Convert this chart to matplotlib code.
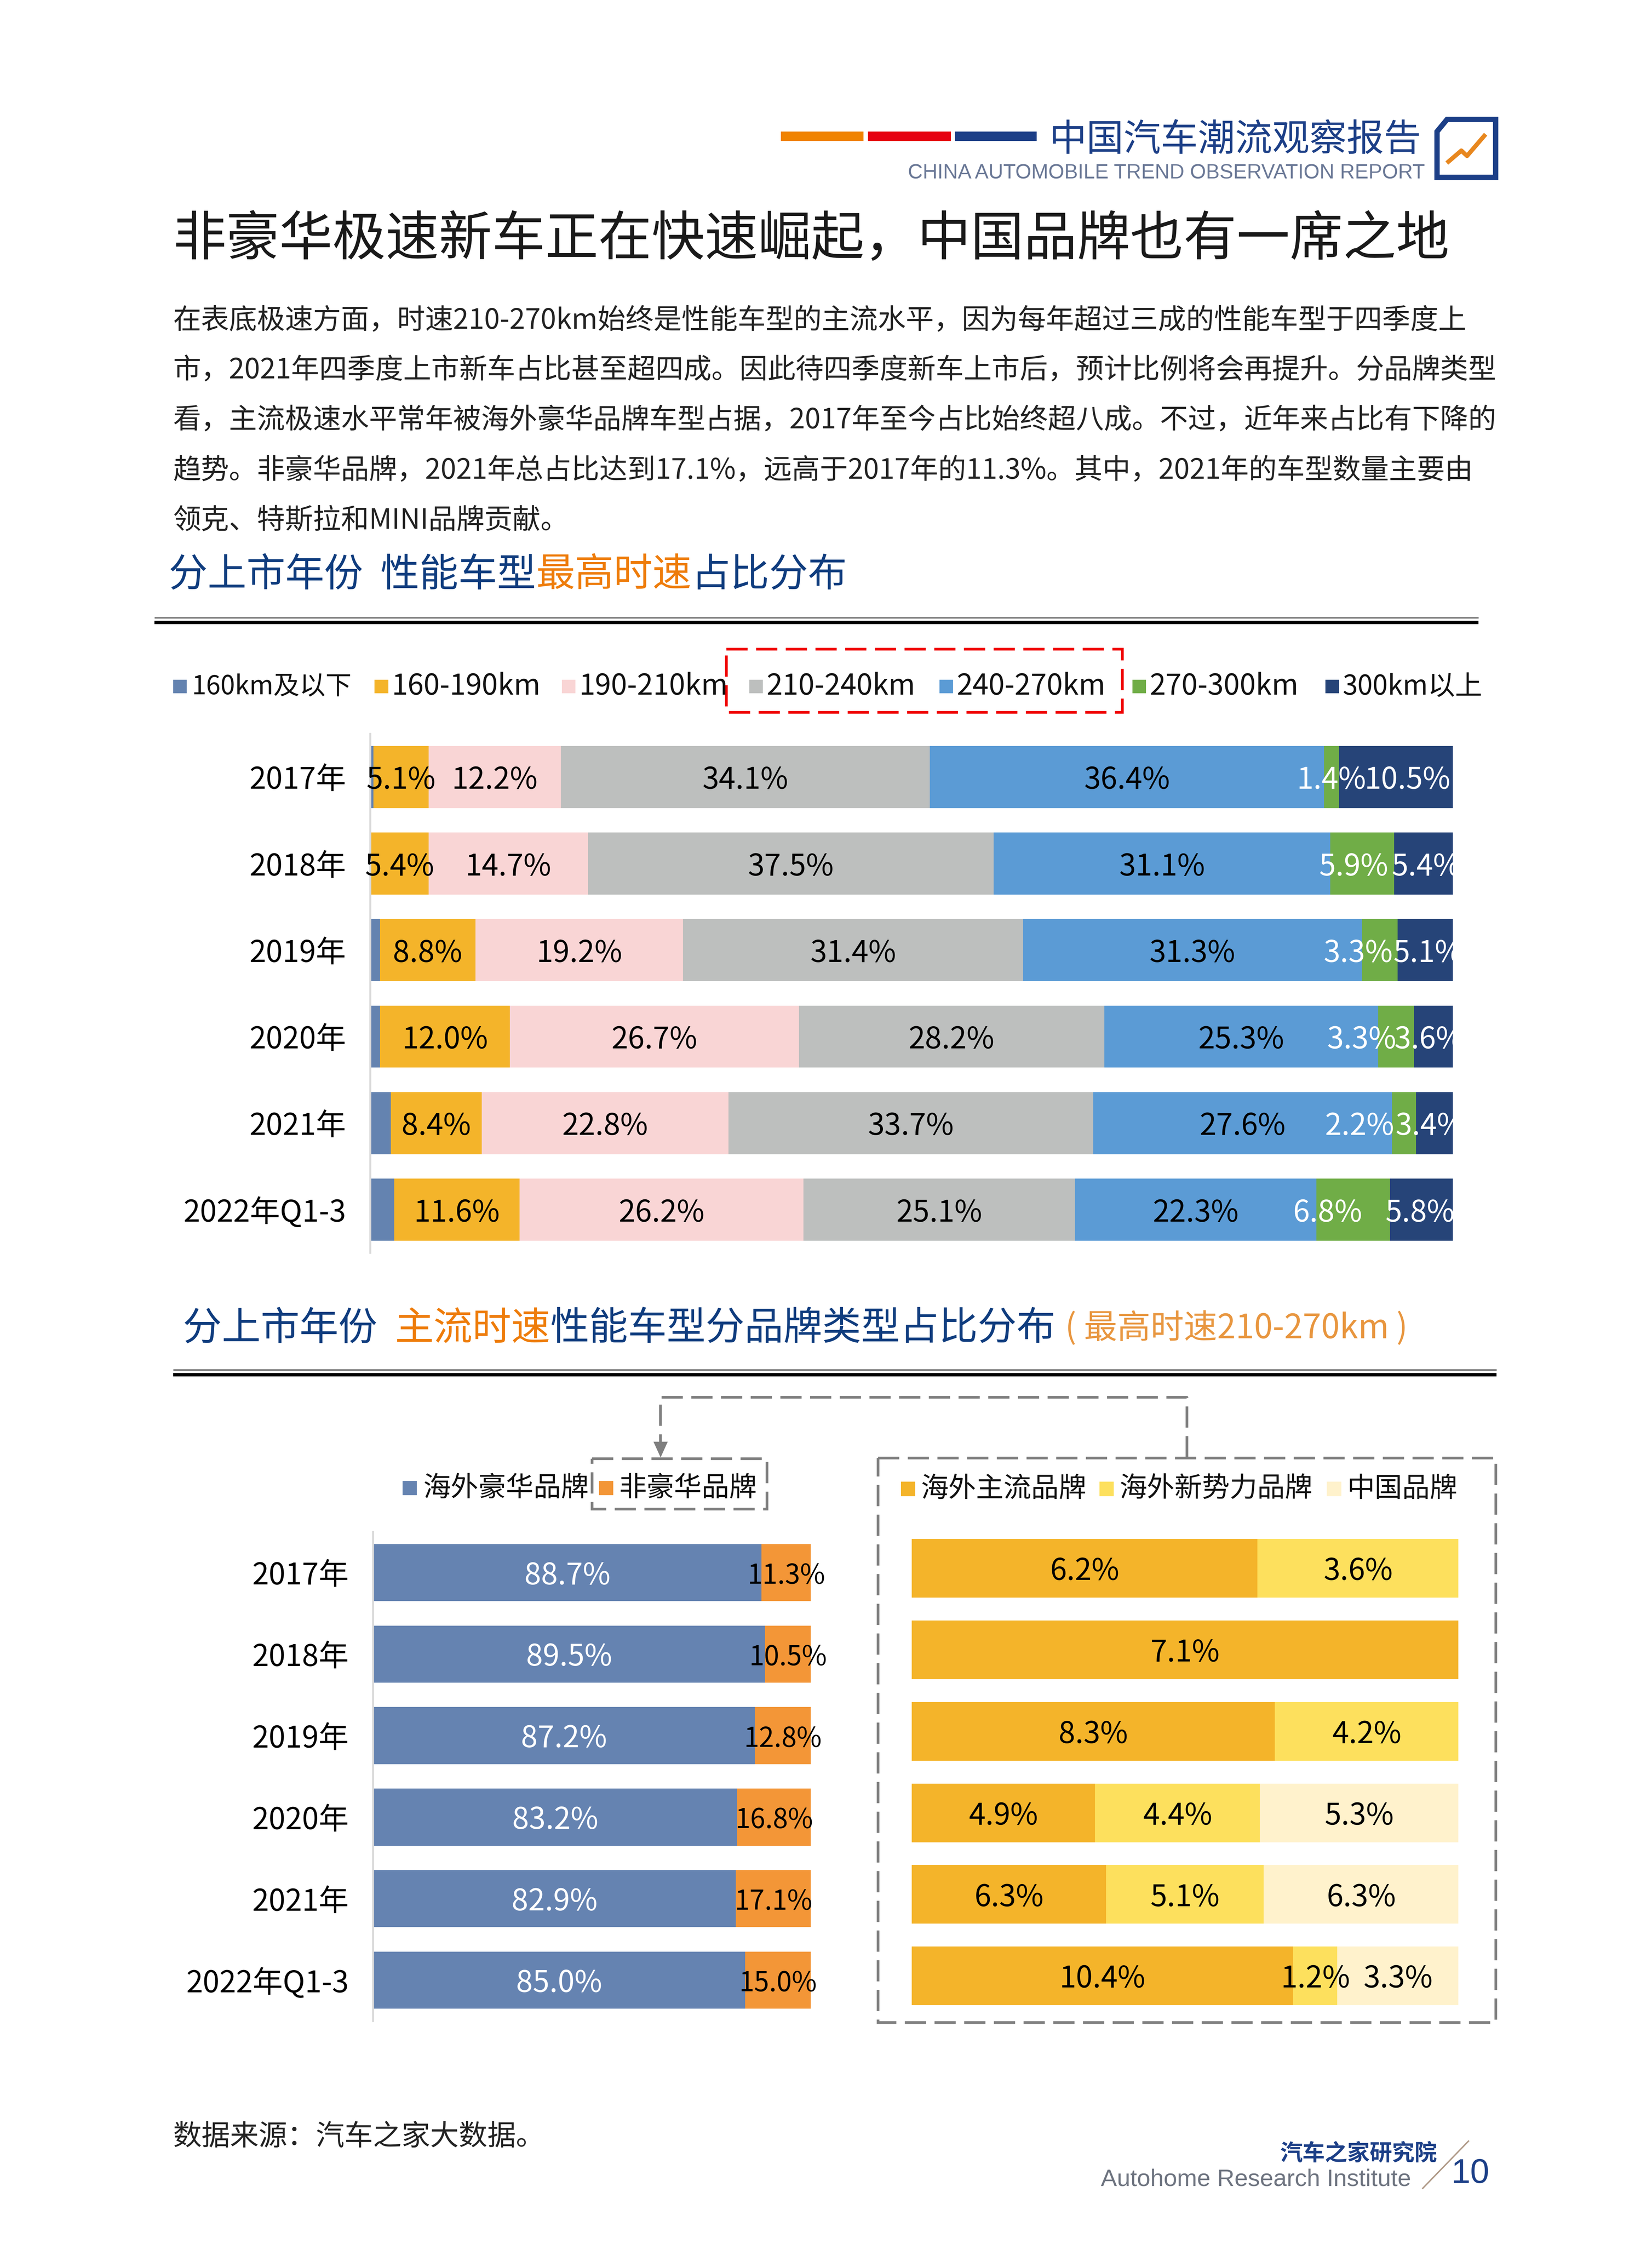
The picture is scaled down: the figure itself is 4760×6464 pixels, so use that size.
import matplotlib
matplotlib.use('Agg')
import matplotlib.pyplot as plt
from matplotlib.patches import Polygon, Rectangle
import numpy as np

plt.rcParams['font.family'] = ['Noto Sans CJK SC', 'DejaVu Sans']

# 数据
years = ['2017年', '2018年', '2019年', '2020年', '2021年', '2022年Q1-3']

speed_names = ['160km及以下', '160-190km', '190-210km', '210-240km', '240-270km', '270-300km', '300km以上']
speed_lt160 = [0.3, 0.0, 0.9, 0.9, 1.9, 2.2]
speed_160 = [5.1, 5.4, 8.8, 12.0, 8.4, 11.6]
speed_190 = [12.2, 14.7, 19.2, 26.7, 22.8, 26.2]
speed_210 = [34.1, 37.5, 31.4, 28.2, 33.7, 25.1]
speed_240 = [36.4, 31.1, 31.3, 25.3, 27.6, 22.3]
speed_270 = [1.4, 5.9, 3.3, 3.3, 2.2, 6.8]
speed_300 = [10.5, 5.4, 5.1, 3.6, 3.4, 5.8]

brand_names = ['海外豪华品牌', '非豪华品牌']
lux_share = [88.7, 89.5, 87.2, 83.2, 82.9, 85.0]
nonlux_share = [11.3, 10.5, 12.8, 16.8, 17.1, 15.0]

sub_names = ['海外主流品牌', '海外新势力品牌', '中国品牌']
overseas_main = [6.2, 7.1, 8.3, 4.9, 6.3, 10.4]
overseas_new = [3.6, 0.0, 4.2, 4.4, 5.1, 1.2]
china_brand = [0.0, 0.0, 0.0, 5.3, 6.3, 3.3]

body_lines = [
    '在表底极速方面，时速210-270km始终是性能车型的主流水平，因为每年超过三成的性能车型于四季度上',
    '市，2021年四季度上市新车占比甚至超四成。因此待四季度新车上市后，预计比例将会再提升。分品牌类型',
    '看，主流极速水平常年被海外豪华品牌车型占据，2017年至今占比始终超八成。不过，近年来占比有下降的',
    '趋势。非豪华品牌，2021年总占比达到17.1%，远高于2017年的11.3%。其中，2021年的车型数量主要由',
    '领克、特斯拉和MINI品牌贡献。',
]

W, H = 4760, 6464
S = 4.12
BLUE = '#0F3C7E'
ORANGE = '#EE7C0A'
NAVY = '#1C3F87'
GREY = '#7F7F7F'
speed_colors = ['#6483B0', '#F4B42A', '#F9D5D5', '#BDBFBE', '#5B9BD5', '#70AD47', '#264478']
speed_text = [None, 'black', 'black', 'black', 'black', 'white', 'white']
brand_colors = ['#6583B1', '#F39637']
sub_colors = ['#F4B42A', '#FDE05D', '#FFF2CC']
# 图一里手动挪开的标签（页面像素）
green_shift = [0, -6, -15, -24, -31, -18]
navy_shift = [8, 2, 2, -3, -3, -1]


def fs(px):
    # 字号：按页面坐标的像素换算成 pt
    return px * S * 72 / 100


fig = plt.figure(figsize=(W / 100, H / 100), dpi=100, facecolor='white')
page = fig.add_axes([0, 0, 1, 1])
page.set_xlim(0, W / S)
page.set_ylim(H / S, 0)
page.axis('off')


def stacked(left, right, top, bottom, series, colors, text_colors, height, normalize=False,
            tick_x=None, label_px=21.0, label_sizes=None, xmax=100.0, shifts=None, clip_last=False):
    ax = fig.add_axes([left * S / W, 1 - bottom * S / H,
                       (right - left) * S / W, (bottom - top) * S / H])
    ax.patch.set_alpha(0)
    vals = np.array(series, dtype=float)
    shown = vals.copy()
    if normalize:
        vals = vals / vals.sum(axis=0) * 100
    y = np.arange(len(years))
    base = np.zeros(len(years))
    per_px = xmax / (right - left)
    for n, (s, c, tc, sh) in enumerate(zip(vals, colors, text_colors, shown)):
        ax.barh(y, s, left=base, height=height, color=c, linewidth=0)
        for i in y:
            if tc is None or sh[i] <= 0:
                continue
            dx = 0
            if shifts and n in shifts:
                dx = shifts[n][i] * per_px
            px = label_sizes[n] if label_sizes else label_px
            ax.text(base[i] + s[i] / 2 + dx, i + 0.04, f'{sh[i]:.1f}%', ha='center', va='center',
                    fontsize=fs(px), color=tc, zorder=5,
                    clip_on=clip_last and n == len(vals) - 1)
        base += s
    ax.set_xlim(0, xmax)
    ax.set_ylim(len(years) - 0.5, -0.5)
    ax.set_xticks([])
    for k in ['top', 'right', 'bottom']:
        ax.spines[k].set_visible(False)
    if tick_x is None:
        ax.spines['left'].set_visible(False)
        ax.set_yticks([])
    else:
        ax.spines['left'].set_color('#D9D9D9')
        ax.spines['left'].set_linewidth(4)
        ax.set_yticks(y, years, fontsize=fs(21))
        ax.tick_params(axis='y', length=0, pad=(left - tick_x) * S * 72 / 100)
    return ax


def legend(items, sq_x, txt_x, y, colors, sizes, sq=9.5):
    for name, sx, tx, c, px in zip(items, sq_x, txt_x, colors, sizes):
        page.add_patch(Rectangle((sx, y - sq / 2), sq, sq, color=c, linewidth=0))
        page.text(tx, y, name, ha='left', va='center', fontsize=fs(px), color='#111111')


def rich_line(x, y, parts):
    # 一行里多种颜色，逐段接着画
    r = fig.canvas.get_renderer()
    for txt, c, px in parts:
        t = page.text(x, y, txt, ha='left', va='center', fontsize=fs(px), color=c)
        x += t.get_window_extent(r).width / S


def rule(x0, x1, y):
    page.plot([x0, x1], [y - 2.3, y - 2.3], color='#808080', lw=3.5, solid_capstyle='butt')
    page.plot([x0, x1], [y + 1.2, y + 1.2], color='black', lw=7, solid_capstyle='butt')


# 页眉
for c, x0, x1 in [('#F08300', 546, 604), ('#E60012', 607, 665), ('#1C3F87', 668, 725)]:
    page.add_patch(Rectangle((x0, 92), x1 - x0, 6.5, color=c, linewidth=0))
page.text(734, 98, '中国汽车潮流观察报告', ha='left', va='center', fontsize=fs(26.0), color=NAVY)
page.text(635, 121, 'CHINA AUTOMOBILE TREND OBSERVATION REPORT', ha='left', va='center',
          fontsize=fs(14.3), color='#6A7896', family='Liberation Sans')
page.add_patch(Polygon([(1005, 92), (1012, 83.5), (1046, 83.5), (1046, 124), (1005, 124)],
                       closed=True, fill=False, edgecolor=NAVY, linewidth=11))
page.plot([1013, 1022, 1026, 1038], [113, 105.3, 109, 95], color='#E8871E', lw=9)

# 标题和正文
page.text(121, 168, '非豪华极速新车正在快速崛起，中国品牌也有一席之地', ha='left', va='center',
          fontsize=fs(37.2), color='#1A1A1A')
for i, line in enumerate(body_lines):
    page.text(121, 224 + i * 35, line, ha='left', va='center', fontsize=fs(19.6), color='#222222')

# 图一
rich_line(118, 402, [('分上市年份  性能车型', BLUE, 27.2), ('最高时速', ORANGE, 27.2), ('占比分布', BLUE, 27.2)])
rule(108, 1034, 434)
legend(speed_names, [121, 262, 393, 524, 657, 792, 927], [134, 274, 405, 536, 669, 804, 939], 480, speed_colors,
       [18.2, 20.2, 20.2, 20.2, 20.2, 20.2, 19.0])
page.add_patch(Rectangle((508, 454), 277, 44, fill=False, edgecolor='#F00000', linewidth=5.5,
                         linestyle=(0, (8, 3.2))))
stacked(259, 1019, 513, 876,
        [speed_lt160, speed_160, speed_190, speed_210, speed_240, speed_270, speed_300],
        speed_colors, speed_text, 0.717, tick_x=242, xmax=100.4,
        shifts={5: green_shift, 6: navy_shift}, clip_last=True)

# 图二
rich_line(128, 929, [('分上市年份  ', BLUE, 27.2), ('主流时速', ORANGE, 27.2), ('性能车型分品牌类型占比分布', BLUE, 27.2)])
page.text(745, 929, '( 最高时速210-270km )', ha='left', va='center', fontsize=fs(23.3), color='#E8963F')
rule(121, 1046.5, 960)

gd = dict(fill=False, edgecolor=GREY, linewidth=5.5, linestyle=(0, (8, 3.2)))
page.add_patch(Rectangle((414, 1020), 122.5, 35, **gd))
page.add_patch(Rectangle((614, 1019.5), 432, 394.5, **gd))
page.plot([830, 830, 462, 462], [1019, 977, 977, 1008], color=GREY, lw=5.5, linestyle=(0, (8, 3.2)))
page.add_patch(Polygon([(457, 1008), (467, 1008), (462, 1019)], closed=True, color=GREY, linewidth=0))

legend(brand_names, [281.5, 419], [296, 433], 1040.5, brand_colors, [19.3, 19.3], sq=10)
legend(sub_names, [630, 769, 928], [644, 783, 942], 1041, sub_colors, [19.3, 19.3, 19.3], sq=10)

stacked(261, 567, 1071, 1413, [lux_share, nonlux_share], brand_colors, ['white', 'black'], 0.70,
        tick_x=244, label_sizes=[21.0, 19.0])
stacked(637.5, 1020, 1068, 1410, [overseas_main, overseas_new, china_brand], sub_colors,
        ['black', 'black', 'black'], 0.72, normalize=True)

# 页脚
page.text(121, 1494, '数据来源：汽车之家大数据。', ha='left', va='center', fontsize=fs(20), color='#222222')
page.text(1005, 1506, '汽车之家研究院', ha='right', va='center', fontsize=fs(15.7), color=NAVY, fontweight='bold')
page.text(770, 1524, 'Autohome Research Institute', ha='left', va='center', fontsize=fs(16.8),
          color='#6E7480', family='Liberation Sans')
page.plot([995, 1027], [1530, 1497], color='#B09A88', lw=3)
page.text(1015, 1520, '10', ha='left', va='center', fontsize=fs(24), color=NAVY, family='Liberation Sans')

plt.savefig('out.png', dpi=100)
plt.close()
